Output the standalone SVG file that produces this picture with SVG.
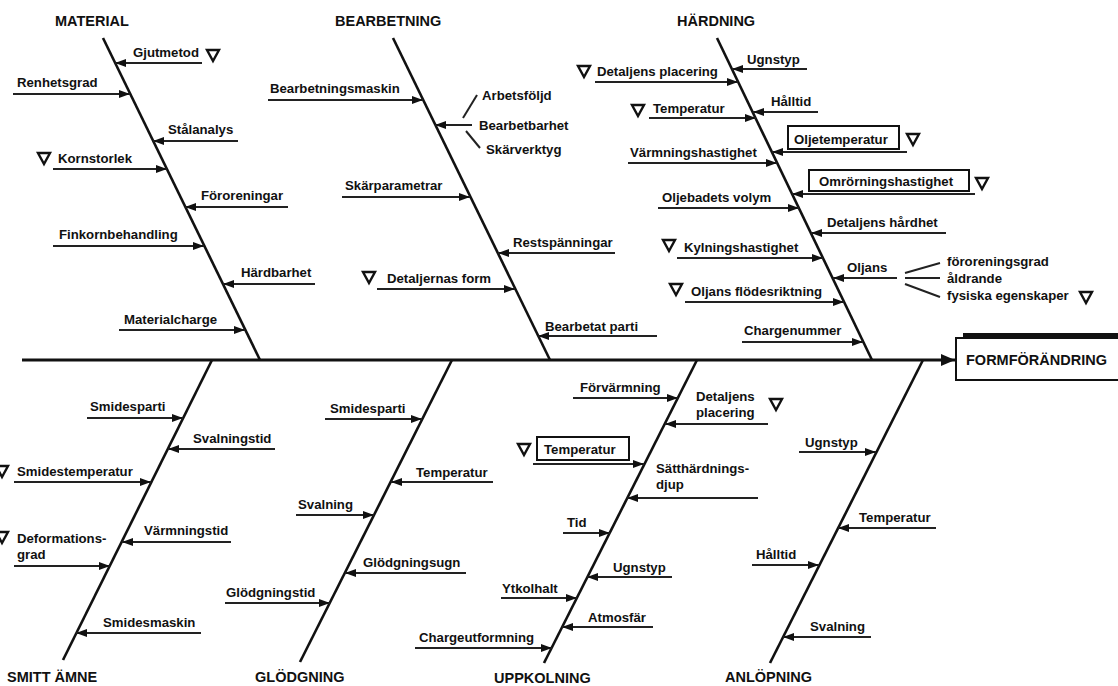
<svg xmlns="http://www.w3.org/2000/svg" width="1118" height="686" viewBox="0 0 1118 686">
<style>
text{font-family:"Liberation Sans",Arial,sans-serif;font-weight:bold;font-size:13.2px;fill:#111}
.h{font-size:14.5px}
.bone{stroke:#111;stroke-width:2.6;fill:none}
.br{stroke:#222;stroke-width:2;fill:none;marker-end:url(#ah)}
.ln{stroke:#222;stroke-width:2;fill:none}
.box{fill:none;stroke:#111;stroke-width:2}
.tri{fill:none;stroke:#111;stroke-width:2.4;stroke-linejoin:miter}
</style>
<defs>
<marker id="ah" markerWidth="12" markerHeight="10" refX="11" refY="5" orient="auto" markerUnits="userSpaceOnUse"><path d="M0,1 L11,5 L0,9 Z" fill="#111"/></marker>
<marker id="ahb" markerWidth="15" markerHeight="14" refX="14" refY="7" orient="auto" markerUnits="userSpaceOnUse"><path d="M0,1 L14,7 L0,13 Z" fill="#111"/></marker>
<path id="tri" class="tri" d="M0,0 L12,0 L6,11 Z"/>
</defs>
<rect width="1118" height="686" fill="#fff"/>

<g id="connectors">
<line x1="22" y1="360" x2="955" y2="360" stroke="#111" stroke-width="3" marker-end="url(#ahb)"/>
<line class="bone" x1="103" y1="38" x2="260" y2="360"/>
<line class="bone" x1="393" y1="38" x2="550" y2="360"/>
<line class="bone" x1="717" y1="38" x2="872" y2="360"/>
<line class="bone" x1="212" y1="360" x2="63" y2="660"/>
<line class="bone" x1="452" y1="360" x2="300" y2="662"/>
<line class="bone" x1="697" y1="360" x2="544" y2="663"/>
<line class="bone" x1="923" y1="360" x2="770" y2="663"/>
<!-- MATERIAL -->
<line class="br" x1="202" y1="63" x2="115" y2="63"/>
<line class="br" x1="13" y1="94" x2="130" y2="94"/>
<line class="br" x1="238" y1="141" x2="153" y2="141"/>
<line class="br" x1="53" y1="169" x2="167" y2="169"/>
<line class="br" x1="288" y1="207" x2="185" y2="207"/>
<line class="br" x1="53" y1="246" x2="204" y2="246"/>
<line class="br" x1="315" y1="284" x2="223" y2="284"/>
<line class="br" x1="119" y1="330" x2="245" y2="330"/>
<!-- BEARBETNING -->
<line class="br" x1="268" y1="100" x2="423" y2="100"/>
<line class="br" x1="472" y1="125" x2="435" y2="125"/>
<line class="ln" x1="463" y1="118" x2="477" y2="95"/>
<line class="ln" x1="466" y1="131" x2="480" y2="148"/>
<line class="br" x1="342" y1="197" x2="470" y2="197"/>
<line class="br" x1="615" y1="253" x2="498" y2="253"/>
<line class="br" x1="377" y1="289" x2="515" y2="289"/>
<line class="br" x1="657" y1="336" x2="538" y2="336"/>
<!-- HÄRDNING -->
<line class="br" x1="807" y1="69" x2="732" y2="69"/>
<line class="br" x1="595" y1="82" x2="738" y2="82"/>
<line class="br" x1="818" y1="112" x2="753" y2="112"/>
<line class="br" x1="649" y1="118" x2="756" y2="118"/>
<line class="br" x1="907" y1="152" x2="772" y2="152"/>
<line class="br" x1="628" y1="163" x2="777" y2="163"/>
<line class="br" x1="975" y1="194" x2="792" y2="194"/>
<line class="br" x1="658" y1="208" x2="799" y2="208"/>
<line class="br" x1="946" y1="233" x2="811" y2="233"/>
<line class="br" x1="677" y1="258" x2="823" y2="258"/>
<line class="br" x1="897" y1="278" x2="833" y2="278"/>
<line class="br" x1="685" y1="302" x2="844" y2="302"/>
<line class="br" x1="742" y1="342" x2="863" y2="342"/>
<line class="ln" x1="905" y1="273" x2="940" y2="263"/>
<line class="ln" x1="905" y1="278" x2="940" y2="278"/>
<line class="ln" x1="905" y1="284" x2="940" y2="297"/>
<!-- SMITT ÄMNE -->
<line class="br" x1="87" y1="418" x2="183" y2="418"/>
<line class="br" x1="275" y1="449" x2="168" y2="449"/>
<line class="br" x1="14" y1="482" x2="151" y2="482"/>
<line class="br" x1="231" y1="542" x2="122" y2="542"/>
<line class="br" x1="14" y1="566" x2="110" y2="566"/>
<line class="br" x1="201" y1="633" x2="76" y2="633"/>
<!-- GLÖDGNING -->
<line class="br" x1="325" y1="419" x2="422" y2="419"/>
<line class="br" x1="493" y1="482" x2="391" y2="482"/>
<line class="br" x1="296" y1="515" x2="374" y2="515"/>
<line class="br" x1="466" y1="573" x2="345" y2="573"/>
<line class="br" x1="225" y1="603" x2="330" y2="603"/>
<!-- UPPKOLNING -->
<line class="br" x1="573" y1="398" x2="678" y2="398"/>
<line class="br" x1="768" y1="424" x2="665" y2="424"/>
<line class="br" x1="533" y1="464" x2="644" y2="464"/>
<line class="br" x1="758" y1="498" x2="627" y2="498"/>
<line class="br" x1="563" y1="533" x2="610" y2="533"/>
<line class="br" x1="672" y1="577" x2="587" y2="577"/>
<line class="br" x1="501" y1="598" x2="577" y2="598"/>
<line class="br" x1="653" y1="627" x2="562" y2="627"/>
<line class="br" x1="415" y1="648" x2="552" y2="648"/>
<!-- ANLÖPNING -->
<line class="br" x1="799" y1="452" x2="876" y2="452"/>
<line class="br" x1="936" y1="528" x2="838" y2="528"/>
<line class="br" x1="752" y1="565" x2="819" y2="565"/>
<line class="br" x1="871" y1="637" x2="783" y2="637"/>
</g>

<g id="effect">
<rect x="963" y="333" width="160" height="6" fill="#111"/>
<rect class="box" x="956" y="338" width="170" height="42" fill="#fff"/>
<text class="h" x="966" y="365">FORMFÖRÄNDRING</text>
</g>

<g id="material">
<text class="h" x="55" y="26">MATERIAL</text>
<text x="133" y="57">Gjutmetod</text><use href="#tri" x="207" y="50"/>
<text x="17" y="87">Renhetsgrad</text>
<text x="168" y="134">Stålanalys</text>
<use href="#tri" x="38" y="153"/><text x="58" y="163">Kornstorlek</text>
<text x="201" y="200">Föroreningar</text>
<text x="59" y="239">Finkornbehandling</text>
<text x="241" y="277">Härdbarhet</text>
<text x="124" y="324">Materialcharge</text>
</g>

<g id="bearbetning">
<text class="h" x="335" y="26">BEARBETNING</text>
<text x="270" y="93">Bearbetningsmaskin</text>
<text x="482" y="100">Arbetsföljd</text>
<text x="479" y="130">Bearbetbarhet</text>
<text x="486" y="154">Skärverktyg</text>
<text x="345" y="190">Skärparametrar</text>
<text x="513" y="247">Restspänningar</text>
<use href="#tri" x="363" y="272"/><text x="387" y="283">Detaljernas form</text>
<text x="545" y="331">Bearbetat parti</text>
</g>

<g id="hardning">
<text class="h" x="677" y="26">HÄRDNING</text>
<text x="747" y="64">Ugnstyp</text>
<use href="#tri" x="578" y="66"/><text x="597" y="76">Detaljens placering</text>
<text x="771" y="106">Hålltid</text>
<use href="#tri" x="632" y="105"/><text x="653" y="113">Temperatur</text>
<rect class="box" x="788" y="126" width="111" height="23"/><text x="794" y="144">Oljetemperatur</text><use href="#tri" x="907" y="134"/>
<text x="630" y="157">Värmningshastighet</text>
<rect class="box" x="809" y="170" width="160" height="21"/><text x="819" y="186">Omrörningshastighet</text><use href="#tri" x="976" y="178"/>
<text x="662" y="202">Oljebadets volym</text>
<text x="827" y="227">Detaljens hårdhet</text>
<use href="#tri" x="663" y="240"/><text x="684" y="252">Kylningshastighet</text>
<text x="847" y="272">Oljans</text>
<text x="947" y="266">föroreningsgrad</text>
<text x="947" y="283">åldrande</text>
<text x="947" y="300">fysiska egenskaper</text><use href="#tri" x="1080" y="292"/>
<use href="#tri" x="670" y="284"/><text x="691" y="296">Oljans flödesriktning</text>
<text x="744" y="335">Chargenummer</text>
</g>

<g id="smitt-amne">
<text class="h" x="7" y="682">SMITT ÄMNE</text>
<text x="90" y="411">Smidesparti</text>
<text x="193" y="443">Svalningstid</text>
<use href="#tri" x="-4" y="466"/><text x="17" y="476">Smidestemperatur</text>
<text x="144" y="535">Värmningstid</text>
<use href="#tri" x="-4" y="532"/><text x="17" y="543">Deformations-</text><text x="17" y="559">grad</text>
<text x="103" y="627">Smidesmaskin</text>
</g>

<g id="glodgning">
<text class="h" x="255" y="682">GLÖDGNING</text>
<text x="330" y="413">Smidesparti</text>
<text x="416" y="477">Temperatur</text>
<text x="298" y="509">Svalning</text>
<text x="363" y="567">Glödgningsugn</text>
<text x="226" y="597">Glödgningstid</text>
</g>

<g id="uppkolning">
<text class="h" x="494" y="683">UPPKOLNING</text>
<text x="580" y="392">Förvärmning</text>
<text x="696" y="401">Detaljens</text><text x="696" y="417">placering</text><use href="#tri" x="770" y="399"/>
<use href="#tri" x="518" y="444"/><rect class="box" x="537" y="437" width="92" height="23"/><text x="544" y="454">Temperatur</text>
<text x="656" y="473">Sätthärdnings-</text><text x="656" y="489">djup</text>
<text x="567" y="527">Tid</text>
<text x="613" y="572">Ugnstyp</text>
<text x="502" y="593">Ytkolhalt</text>
<text x="588" y="622">Atmosfär</text>
<text x="419" y="642">Chargeutformning</text>
</g>

<g id="anlopning">
<text class="h" x="725" y="682">ANLÖPNING</text>
<text x="805" y="447">Ugnstyp</text>
<text x="859" y="522">Temperatur</text>
<text x="756" y="559">Hålltid</text>
<text x="810" y="631">Svalning</text>
</g>
</svg>
